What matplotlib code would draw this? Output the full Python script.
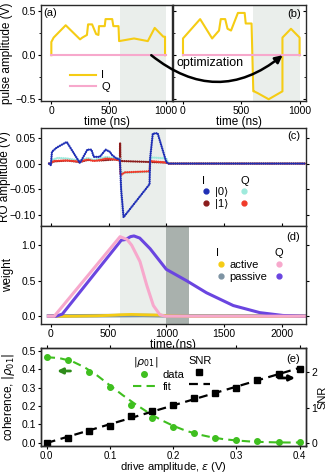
import numpy as np
import matplotlib
matplotlib.use("Agg")
import matplotlib.pyplot as plt
from matplotlib.patches import ConnectionPatch
from matplotlib.lines import Line2D

# ---- data ----
# (a) pulse before optimization
t_a = [0, 0, 20, 125, 250, 270, 310, 320, 355, 390, 410, 415, 465, 472, 530, 540, 585, 590, 720, 840, 900, 975, 990, 990]
I_a = [0, 0.15, 0.20, 0.34, 0.18, 0.20, 0.23, 0.35, 0.35, 0.24, 0.23, 0.33, 0.33, 0.41, 0.41, 0.33, 0.33, 0.16, 0.19, 0.16, 0.31, 0.21, 0.21, 0]
# (b) optimized pulse
t_b = [0, 0, 147, 250, 309, 324, 362, 382, 412, 471, 529, 538, 588, 603, 609, 640, 735, 853, 853, 926, 1000, 1000]
I_b = [0, 0.19, 0.41, 0.19, 0.28, 0.41, 0.41, 0.30, 0.28, 0.48, 0.48, 0.36, 0.36, -0.41, -0.41, -0.43, -0.50, -0.41, 0.20, 0.30, 0.20, 0]
t_q = [0, 1000]
Q_ab = [0, 0]

# (c) readout resonator response
t_I0 = [-15, 0, 10, 51, 138, 252, 316, 352, 372, 424, 475, 510, 533, 568, 598, 603, 609, 630, 855, 860, 883, 925, 1000, 1020, 2200]
I0 = [0, -0.003, 0.023, 0.031, 0.042, 0.001, 0.027, 0.027, 0.013, 0.013, 0.027, 0.023, 0.016, 0.010, 0.008, -0.016, -0.050, -0.104, -0.040, 0.010, 0.058, 0.059, 0.003, 0, 0]
t_Q0 = [-15, 0, 20, 60, 140, 250, 320, 370, 430, 480, 560, 598, 603, 630, 855, 865, 1000, 1020, 2200]
Q0 = [0, 0, 0.008, 0.011, 0.010, 0.006, 0.011, 0.007, 0.010, 0.013, 0.010, 0.010, -0.015, -0.018, -0.016, 0.012, 0.010, 0, 0]
t_I1 = [-15, 0, 20, 140, 250, 320, 430, 560, 598, 600, 603, 1000, 1020, 2200]
I1 = [0, 0, 0.004, 0.006, 0.003, 0.007, 0.006, 0.008, 0.006, 0.040, 0.005, 0.002, 0, 0]
t_Q1 = [-15, 0, 20, 140, 250, 320, 370, 430, 480, 560, 598, 603, 609, 640, 855, 860, 1000, 1020, 2200]
Q1 = [0, 0, 0.005, 0.006, 0.004, 0.008, 0.005, 0.007, 0.010, 0.008, 0.006, -0.020, -0.022, -0.017, -0.015, 0.005, 0.002, 0, 0]

# (d) integration weights
t_Qact = [-20, 30, 600, 630, 660, 700, 772, 830, 888, 945, 990, 2200]
Q_act = [0, 0, 1.12, 1.10, 1.08, 1.00, 0.77, 0.44, 0.15, 0.02, 0, 0]
t_Qpas = [-20, 45, 100, 610, 650, 690, 720, 770, 860, 1000, 1175, 1348, 1580, 1810, 2010, 2200]
Q_pas = [0, 0, 0.03, 1.07, 1.08, 1.12, 1.13, 1.10, 0.95, 0.66, 0.50, 0.33, 0.15, 0.05, 0.01, 0]
t_Iact = [-20, 200, 400, 550, 600, 700, 800, 950, 1000, 1200, 2200]
I_act = [0, 0, 0.005, 0.015, 0.02, 0.025, 0.02, 0.015, 0.005, 0, 0]
t_Ipas = [-20, 600, 800, 1000, 2200]
I_pas = [0.003, 0.008, 0.01, 0.005, 0.003]

# (e) coherence and SNR vs drive amplitude
eps = [0, 0.0333, 0.0667, 0.1, 0.1333, 0.1667, 0.2, 0.2333, 0.2667, 0.3, 0.3333, 0.3667, 0.4]
rho = [0.465, 0.452, 0.385, 0.305, 0.205, 0.135, 0.088, 0.05, 0.027, 0.013, 0.007, 0.004, 0.003]
eps_fit = [0, 0.02, 0.04, 0.06, 0.08, 0.10, 0.12, 0.14, 0.16, 0.18, 0.20, 0.22, 0.24, 0.26, 0.28, 0.30, 0.32, 0.34, 0.36, 0.38, 0.40]
rho_fit = [0.465, 0.460, 0.443, 0.410, 0.365, 0.312, 0.259, 0.210, 0.165, 0.125, 0.092, 0.065, 0.045, 0.030, 0.019, 0.012, 0.007, 0.004, 0.002, 0.001, 0.001]
snr = [0, 0.14, 0.34, 0.48, 0.75, 0.89, 1.08, 1.26, 1.42, 1.56, 1.78, 1.94, 2.09]
eps_snr_fit = [0, 0.4]
snr_fit = [0, 2.12]

# ---- styling ----
plt.rcParams["font.family"] = ["Liberation Sans", "DejaVu Sans"]
plt.rcParams["font.size"] = 8.5
plt.rcParams["xtick.labelsize"] = 7.5
plt.rcParams["ytick.labelsize"] = 7.5
plt.rcParams["legend.fontsize"] = 8
plt.rcParams["legend.title_fontsize"] = 8
plt.rcParams["axes.linewidth"] = 1.0
plt.rcParams["axes.edgecolor"] = "#2a2a2a"
plt.rcParams["xtick.major.size"] = 2.5
plt.rcParams["ytick.major.size"] = 2.5
plt.rcParams["xtick.major.pad"] = 1.2
plt.rcParams["ytick.major.pad"] = 1.2

yellow = "#f5cc14"
pink = "#f7a8cc"
purple = "#6a45e0"
slate = "#7d93a3"
blue = "#1f2fb5"
cyan = "#9eeadc"
darkred = "#8b1c1c"
red = "#f03a2a"
green = "#3fbf1f"
shade = "#eaeeeb"
dark_shade = "#a9b1ad"

W, H = 326, 473


def box(l, t, r, b):
    return [l / W, 1 - b / H, (r - l) / W, (b - t) / H]


fig = plt.figure(figsize=(W / 100, H / 100), dpi=100)
ax_a = fig.add_axes(box(41, 5, 172.5, 101))
ax_b = fig.add_axes(box(172.5, 5, 306, 101))
ax_c = fig.add_axes(box(41, 128, 306, 226))
ax_d = fig.add_axes(box(41, 226, 306, 324), sharex=ax_c)
ax_e = fig.add_axes(box(41, 348, 306, 446))

# (a) and (b): pulses
for ax, t_I, I_vals in [(ax_a, t_a, I_a), (ax_b, t_b, I_b)]:
    ax.axvspan(600, 1000, color=shade, lw=0, zorder=0)
    ax.plot(t_I, I_vals, color=yellow, lw=1.5, label="I")
    ax.plot(t_q, Q_ab, color=pink, lw=1.5, label="Q")
    ax.set_xlim(-90, 1055)
    ax.set_ylim(-0.52, 0.57)
    ax.set_xticks([0, 500, 1000])
    ax.set_yticks([-0.5, 0, 0.5])
    ax.set_yticks([-0.25, 0.25], minor=True)
    ax.set_xlabel("time (ns)", labelpad=0)
    ax.tick_params(which="minor", length=1.5)

ax_a.set_ylabel("pulse amplitude (V)")
ax_a.yaxis.set_label_coords(-0.21, 0.5)
ax_a.tick_params(axis="y", which="both", right=True, direction="out")
ax_b.tick_params(axis="y", which="both", left=True, right=True, labelleft=False, direction="in")
ax_a.text(0.02, 0.97, "(a)", transform=ax_a.transAxes, ha="left", va="top", fontsize=8)
ax_b.text(0.96, 0.96, "(b)", transform=ax_b.transAxes, ha="right", va="top", fontsize=8)
ax_a.legend(loc="lower left", bbox_to_anchor=(0.18, 0.04), frameon=False,
            handlelength=2.3, labelspacing=0.1, handletextpad=0.5, borderpad=0)

# curved arrow from (a) to (b)
arrow = ConnectionPatch(xyA=(870, 0.0), coordsA="data", axesA=ax_a,
                        xyB=(855, 0.0), coordsB="data", axesB=ax_b,
                        arrowstyle="-|>", connectionstyle="arc3,rad=0.4",
                        lw=1.8, color="black", mutation_scale=11, zorder=10)
fig.add_artist(arrow)
ax_b.text(0.28, 0.40, "optimization", transform=ax_b.transAxes, ha="center",
          va="center", fontsize=9, zorder=11)

# (c): readout response
dots = dict(lw=1.7, ls=(0, (0.01, 0.9)), dash_capstyle="round")
ax_c.axvspan(600, 1000, color=shade, lw=0, zorder=0)
ax_c.plot(t_I1, I1, color=darkred, **dots)
ax_c.plot(t_Q0, Q0, color=cyan, **dots)
ax_c.plot(t_Q1, Q1, color=red, **dots)
ax_c.plot(t_I0, I0, color=blue, **dots)
ax_c.set_ylim(-0.121, 0.069)
ax_c.set_yticks([-0.1, -0.05, 0, 0.05])
ax_c.set_ylabel("RO amplitude (V)")
ax_c.yaxis.set_label_coords(-0.112, 0.5)
ax_c.tick_params(axis="x", labelbottom=False)
ax_c.tick_params(axis="y", right=True)
ax_c.text(0.977, 0.97, "(c)", transform=ax_c.transAxes, ha="right", va="top", fontsize=8)

leg_kw = dict(frameon=False, borderpad=0, handlelength=0.8, handletextpad=0.4,
              labelspacing=0.15, alignment="left", loc="upper left")
dot = lambda c: Line2D([], [], marker="o", ls="", color=c, ms=3.5)
l1 = ax_c.legend([dot(blue), dot(darkred)], ["|0⟩", "|1⟩"], title="I",
                 bbox_to_anchor=(0.585, 0.57), **leg_kw)
ax_c.add_artist(l1)
ax_c.legend([dot(cyan), dot(red)], ["", ""], title="Q",
            bbox_to_anchor=(0.73, 0.57), **leg_kw)

# (d): weights
ax_d.axvspan(600, 1000, color=shade, lw=0, zorder=0)
ax_d.axvspan(1000, 1200, color=dark_shade, lw=0, zorder=0)
ax_d.plot(t_Ipas, I_pas, color=slate, lw=2.6)
ax_d.plot(t_Iact, I_act, color=yellow, lw=2.0)
ax_d.plot(t_Qpas, Q_pas, color=purple, lw=2.2)
ax_d.plot(t_Qact, Q_act, color=pink, lw=2.2)
ax_d.set_xlim(-85, 2210)
ax_d.set_ylim(-0.11, 1.27)
ax_d.set_xticks([0, 500, 1000, 1500, 2000])
ax_d.set_yticks([0, 0.5, 1.0])
ax_d.set_xlabel("time (ns)", labelpad=0)
ax_d.set_ylabel("weight")
ax_d.yaxis.set_label_coords(-0.1, 0.5)
ax_d.tick_params(axis="x", top=True)
ax_d.tick_params(axis="y", right=True)
ax_d.text(0.977, 0.94, "(d)", transform=ax_d.transAxes, ha="right", va="top", fontsize=8)
l2 = ax_d.legend([dot(yellow), dot(slate)], ["active", "passive"], title="I",
                 bbox_to_anchor=(0.64, 0.83), **leg_kw)
ax_d.add_artist(l2)
ax_d.legend([dot(pink), dot(purple)], ["", ""], title="Q",
            bbox_to_anchor=(0.862, 0.83), **leg_kw)

# (e): coherence and SNR
ax_e2 = ax_e.twinx()
ax_e.plot(eps_fit, rho_fit, color=green, lw=1.5, dashes=(4, 2.5))
ax_e.plot(eps, rho, "o", color=green, ms=4)
ax_e2.plot(eps_snr_fit, snr_fit, color="black", lw=1.6, dashes=(4, 2.5))
ax_e2.plot(eps, snr, "s", color="black", ms=4.3)
ax_e.set_xlim(-0.009, 0.41)
ax_e.set_ylim(-0.018, 0.515)
ax_e2.set_ylim(-0.085, 2.68)
ax_e.set_xticks([0, 0.1, 0.2, 0.3, 0.4])
ax_e.set_yticks([0, 0.1, 0.2, 0.3, 0.4, 0.5])
ax_e2.set_yticks([0, 1, 2])
ax_e.tick_params(axis="x", top=True, labelsize=7, pad=0.8)
ax_e.set_xlabel(r"drive amplitude, $\epsilon$ (V)", fontsize=8)
ax_e.xaxis.set_label_coords(0.5, -0.142)
ax_e.set_ylabel(r"coherence, $|\rho_{01}|$")
ax_e.yaxis.set_label_coords(-0.09, 0.5)
ax_e2.set_ylabel("SNR", fontsize=8)
ax_e2.yaxis.set_label_coords(1.043, 0.5)
ax_e2.text(0.977, 0.94, "(e)", transform=ax_e2.transAxes, ha="right", va="top", fontsize=8)

ax_e.annotate("", xy=(0.012, 0.39), xytext=(0.042, 0.39),
              arrowprops=dict(arrowstyle="-|>", color="#2e8b1a", lw=2, mutation_scale=8))
ax_e.annotate("", xy=(0.397, 0.352), xytext=(0.362, 0.352),
              arrowprops=dict(arrowstyle="-|>", color="black", lw=2, mutation_scale=8))

g_dot = Line2D([], [], marker="o", ls="", color=green, ms=4)
g_dash = Line2D([], [], color=green, lw=1.5, dashes=(4, 2.5))
k_sq = Line2D([], [], marker="s", ls="", color="black", ms=4.3)
k_dash = Line2D([], [], color="black", lw=1.6, dashes=(4, 2.5))
leg_e = dict(leg_kw, handlelength=1.9, handletextpad=0.7)
l3 = ax_e2.legend([g_dot, g_dash], ["data", "fit"], title=r"$|\rho_{01}|$",
                  bbox_to_anchor=(0.328, 0.99), **leg_e)
ax_e2.add_artist(l3)
ax_e2.legend([k_sq, k_dash], ["", ""], title="SNR",
             bbox_to_anchor=(0.536, 0.97), **leg_e)

fig.savefig("out.png", dpi=100)
